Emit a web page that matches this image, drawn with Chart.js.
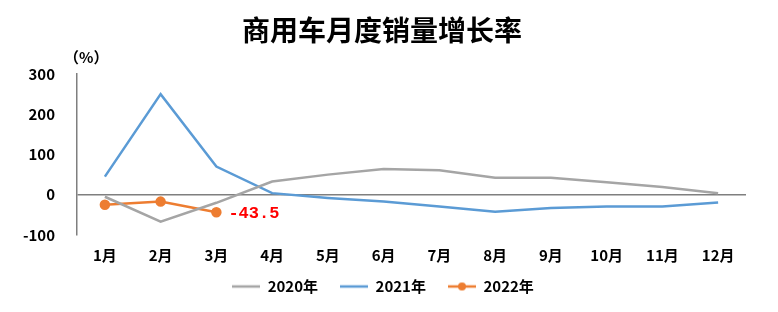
<!DOCTYPE html>
<html><head><meta charset="utf-8">
<script src="https://cdn.jsdelivr.net/npm/chart.js@4/dist/chart.umd.min.js"></script>
<style>html,body{margin:0;padding:0;background:#fff;}#wrap{width:778px;height:312px;}</style>
</head><body><div id="wrap"><canvas id="c" width="778" height="312"></canvas></div>
<script>
const categories = ['1月','2月','3月','4月','5月','6月','7月','8月','9月','10月','11月','12月'];
const series2020 = [-5, -67, -20, 33, 50, 64, 61, 42, 42, 31, 19, 4];
const series2021 = [45, 250, 70, 4, -8, -17, -29, -42, -33, -29, -29, -19];
const series2022 = [-25, -17, -43.5];
const yTicks = [-100, 0, 100, 200, 300];
const title = '商用车月度销量增长率';
const unitLabel = '（%）';
const calloutText = '-43.5';

const CJK = "'Noto Sans CJK SC', 'Liberation Sans', sans-serif";

function legendImg(color, dot) {
  const cv = document.createElement('canvas');
  cv.width = 28; cv.height = 10;
  const g = cv.getContext('2d');
  g.strokeStyle = color; g.lineWidth = 2.5;
  g.beginPath(); g.moveTo(0, 5); g.lineTo(28, 5); g.stroke();
  if (dot) { g.fillStyle = color; g.beginPath(); g.arc(14, 5, 4, 0, Math.PI * 2); g.fill(); }
  return cv;
}

const extras = {
  id: 'extras',
  afterLayout(chart) {
    if (chart.legend) {
      chart.legend.top -= 18; chart.legend.bottom -= 18;
      chart.legend.left += 10; chart.legend.right += 10;
    }
  },
  afterDraw(chart) {
    const ctx = chart.ctx;
    ctx.save();
    ctx.fillStyle = '#000';
    ctx.font = 'bold 28px ' + CJK;
    ctx.textAlign = 'center'; ctx.textBaseline = 'middle';
    ctx.fillText(title, 382, 30);
    ctx.font = 'bold 15px ' + CJK;
    ctx.textAlign = 'left';
    ctx.fillText(unitLabel, 64, 57);
    const meta = chart.getDatasetMeta(2);
    const pt = meta.data[2];
    ctx.fillStyle = '#FF0000';
    ctx.font = 'bold 17px "Liberation Mono", monospace';
    ctx.textAlign = 'left';
    ctx.fillText(calloutText, pt.x + 12, pt.y + 1);
    ctx.restore();
  }
};

new Chart(document.getElementById('c'), {
  type: 'line',
  data: {
    labels: categories,
    datasets: [
      { label: '2020年', data: series2020, borderColor: '#A5A5A5', backgroundColor: '#A5A5A5', borderWidth: 2.5, pointRadius: 0, tension: 0 },
      { label: '2021年', data: series2021, borderColor: '#5B9BD5', backgroundColor: '#5B9BD5', borderWidth: 2.5, pointRadius: 0, tension: 0 },
      { label: '2022年', data: series2022, borderColor: '#ED7D31', backgroundColor: '#ED7D31', borderWidth: 2.5, pointRadius: 4, pointHoverRadius: 4, tension: 0 }
    ]
  },
  options: {
    responsive: false,
    animation: false,
    layout: { padding: { top: 74, right: 32, bottom: -10, left: 0 } },
    plugins: {
      title: { display: false },
      tooltip: { enabled: false },
      legend: {
        position: 'bottom',
        labels: {
          usePointStyle: true,
          pointStyleWidth: 28,
          padding: 22,
          color: '#000',
          font: { family: CJK, size: 15, weight: 'bold' },
          generateLabels(chart) {
            const imgs = [legendImg('#A5A5A5', false), legendImg('#5B9BD5', false), legendImg('#ED7D31', true)];
            return chart.data.datasets.map((ds, i) => ({
              text: ds.label, fillStyle: ds.borderColor, strokeStyle: ds.borderColor,
              lineWidth: 0, pointStyle: imgs[i], datasetIndex: i, hidden: false, fontColor: '#000'
            }));
          }
        }
      }
    },
    scales: {
      x: {
        offset: true,
        grid: { display: false, drawTicks: false },
        border: { display: false },
        ticks: { color: '#000', padding: 11, font: { family: CJK, size: 15, weight: 'bold' }, maxRotation: 0 }
      },
      y: {
        min: -100, max: 300,
        afterBuildTicks(axis) { axis.ticks = yTicks.map(v => ({ value: v })); },
        afterFit(axis) { axis.width = 77; },
        grid: {
          drawTicks: false,
          color: ctx => (ctx.tick && ctx.tick.value === 0) ? '#7F7F7F' : 'rgba(0,0,0,0)',
          lineWidth: 1.5
        },
        border: { display: true, color: '#7F7F7F', width: 1.5 },
        ticks: { color: '#000', padding: 22, font: { family: CJK, size: 15, weight: 'bold' } }
      }
    }
  },
  plugins: [extras]
});
</script>
</body></html>
